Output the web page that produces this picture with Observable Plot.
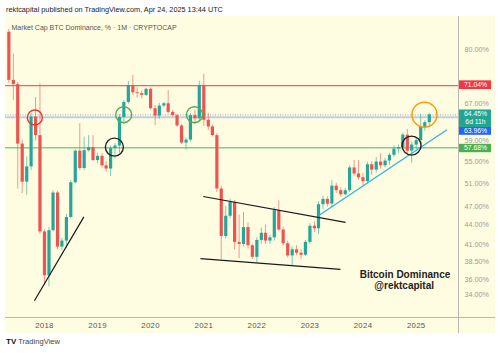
<!DOCTYPE html>
<html><head><meta charset="utf-8">
<script src="https://cdn.jsdelivr.net/npm/d3@7"></script>
<script src="https://cdn.jsdelivr.net/npm/@observablehq/plot@0.6"></script>
<style>
html,body{margin:0;padding:0;background:#fff;width:500px;height:353px;overflow:hidden;font-family:"Liberation Sans",Arial,sans-serif;}
#header{position:absolute;left:6px;top:5px;font-size:7.3px;color:#222;white-space:nowrap;}
#chart{position:absolute;left:5px;top:16px;width:490px;height:317px;}
#footer{position:absolute;left:6px;top:337px;font-size:7.6px;color:#444;white-space:nowrap;}
#footer b{color:#111;font-size:8px;margin-right:2px;}
[aria-label^="x-axis"]{color:#555;}
[aria-label^="x-axis"] text{font-size:7.8px;letter-spacing:0.3px;}
[aria-label^="y-axis"]{color:#9a9a9a;}
</style></head><body>
<div id="header">rektcapital published on TradingView.com, Apr 24, 2025 13:44 UTC</div>
<div id="chart"></div>
<div id="footer"><b>TV</b>TradingView</div>
<script>
// ---------- data ----------
const months = [
 "2017-05","2017-06","2017-07","2017-08","2017-09","2017-10","2017-11","2017-12",
 "2018-01","2018-02","2018-03","2018-04","2018-05","2018-06","2018-07","2018-08","2018-09","2018-10","2018-11","2018-12",
 "2019-01","2019-02","2019-03","2019-04","2019-05","2019-06","2019-07","2019-08","2019-09","2019-10","2019-11","2019-12",
 "2020-01","2020-02","2020-03","2020-04","2020-05","2020-06","2020-07","2020-08","2020-09","2020-10","2020-11","2020-12",
 "2021-01","2021-02","2021-03","2021-04","2021-05","2021-06","2021-07","2021-08","2021-09","2021-10","2021-11","2021-12",
 "2022-01","2022-02","2022-03","2022-04","2022-05","2022-06","2022-07","2022-08","2022-09","2022-10","2022-11","2022-12",
 "2023-01","2023-02","2023-03","2023-04","2023-05","2023-06","2023-07","2023-08","2023-09","2023-10","2023-11","2023-12",
 "2024-01","2024-02","2024-03","2024-04","2024-05","2024-06","2024-07","2024-08","2024-09","2024-10","2024-11","2024-12",
 "2025-01","2025-02","2025-03","2025-04"
];
const opens = [
 84.6,72.3,71.3,58.4,51.2,54.0,64.0,60.1,
 42.9,36.5,43.1,49.3,40.6,41.5,45.2,51.1,57.0,53.7,57.1,57.7,
 55.2,56.0,54.2,53.6,57.5,58.0,63.9,67.2,71.1,69.4,69.2,68.8,
 70.2,65.8,64.2,66.4,66.9,65.0,64.3,62.1,58.6,59.2,64.3,63.6,
 71.1,63.3,61.9,60.1,50.0,42.2,45.4,47.7,41.3,41.0,43.6,40.8,
 39.1,41.6,42.7,41.5,42.0,46.3,43.2,41.1,39.3,40.2,39.7,39.4,
 41.3,43.8,43.4,47.3,48.2,47.4,50.5,49.7,49.0,49.7,53.8,52.7,
 52.0,51.3,54.4,53.4,54.9,54.2,55.1,56.2,57.4,57.7,60.2,57.0,
 58.2,59.1,61.8,62.8
];
const highs = [
 85.4,78.8,71.8,59.2,55.9,64.8,68.3,71.5,
 43.2,43.6,49.7,49.6,41.9,45.7,51.5,57.3,62.6,59.8,60.1,60.1,
 56.6,56.5,55.0,58.0,58.5,64.5,67.6,72.1,73.5,70.5,69.8,70.4,
 70.5,66.5,67.0,67.2,69.9,65.4,64.6,62.4,59.6,64.8,65.5,72.1,
 73.8,64.8,62.3,60.5,50.5,47.0,48.2,48.0,45.6,46.0,44.3,41.0,
 42.0,43.5,44.0,42.4,46.8,48.0,43.6,41.5,40.6,40.8,40.2,41.6,
 44.2,44.5,47.8,48.8,48.6,51.5,51.0,50.2,50.1,54.2,55.2,55.2,
 52.8,54.8,55.0,55.8,56.5,55.6,56.6,58.0,58.2,60.6,61.4,58.8,
 59.7,64.6,63.2,64.8
];
const lows = [
 71.6,67.6,50.0,49.2,48.9,53.3,59.0,42.5,
 35.2,35.0,42.9,40.2,40.1,40.4,45.0,50.9,53.3,53.3,56.8,55.0,
 54.6,53.8,53.0,52.2,55.5,56.6,62.5,66.8,68.8,68.2,68.0,68.5,
 65.5,62.2,63.5,66.0,64.6,64.0,61.8,58.3,57.2,58.8,62.5,63.0,
 62.0,61.2,59.8,49.4,38.8,41.8,45.0,40.2,38.9,40.6,40.3,38.8,
 38.3,41.0,41.0,41.0,41.5,43.0,40.8,39.0,37.9,39.4,38.8,39.2,
 41.0,42.8,42.5,46.5,46.9,46.8,49.2,48.6,48.8,49.4,52.3,51.6,
 50.6,50.9,52.4,52.8,53.6,53.8,54.3,55.8,56.5,57.2,56.5,54.7,
 57.3,58.3,61.0,62.0
];
const closes = [
 72.3,71.3,58.4,51.2,54.0,64.0,60.1,42.9,
 36.5,43.1,49.3,40.6,41.5,45.2,51.1,57.0,53.7,57.1,57.7,55.2,
 56.0,54.2,53.6,57.5,58.0,63.9,67.2,71.1,69.4,69.2,68.8,70.2,
 65.8,64.2,66.4,66.9,65.0,64.3,62.1,58.6,59.2,64.3,63.6,71.1,
 63.3,61.9,60.1,50.0,42.2,45.4,47.7,41.3,41.0,43.6,40.8,39.1,
 41.6,42.7,41.5,42.0,46.3,43.2,41.1,39.3,40.2,39.7,39.4,41.3,
 43.8,43.4,47.3,48.2,47.4,50.5,49.7,49.0,49.7,53.8,52.7,52.0,
 51.3,54.4,53.4,54.9,54.2,55.1,56.2,57.4,57.7,60.2,57.0,58.2,
 59.1,61.8,62.8,64.45
];

// axis ticks (labels hidden behind price badges are left out)
const yearTicks = ["2018","2019","2020","2021","2022","2023","2024","2025"];
const yTicks = [80, 67, 59, 55, 51, 47, 44, 41, 38.5, 36, 34];

// horizontal levels and their price badges
const levelValues = [71.04, 64.45, 63.96, 57.68];
const levelLabels = ["71.04%", "64.45%", "63.96%", "57.68%"];
const countdownLabel = "6d 11h";

// hand-drawn trend lines (start/end date and value)
const trendStartDates = ["2017-10-24", "2020-12-28", "2020-12-09", "2023-03-03"];
const trendStartValues = [33.2, 48.7, 38.9, 45.5];
const trendEndDates = ["2018-09-29", "2023-09-03", "2023-07-30", "2025-08-01"];
const trendEndValues = [45.3, 44.4, 37.4, 61.3];

// circles marking points
const circleDates = ["2017-10-27", "2019-04-27", "2019-06-30", "2020-10-29", "2024-11-30", "2025-02-27"];
const circleValues = [63.9, 57.8, 64.5, 64.5, 58.1, 64.5];

// annotation text
const noteDates = ["2024-10-16", "2024-10-10"];
const noteValues = [36.6, 35.1];
const noteTexts = ["Bitcoin Dominance", "@rektcapital"];

const seriesTitle = "Market Cap BTC Dominance, % · 1M · CRYPTOCAP";

// ---------- styles / layout ----------
const W = 490, H = 317, MR = 37, MB = 16;
const frameW = W - MR;
const UP = "#26a69a", DOWN = "#ef5350";
const trendColors = ["#1a1a1a", "#1a1a1a", "#1a1a1a", "#2fb0dc"];
const circleColors = ["#e53935", "#222", "#4caf50", "#4caf50", "#222", "#ff9800"];
const circleRadius = [7.5, 9, 8, 8, 9.5, 12.5];
const levelStyles = [
  {stroke: "#f23645", width: 1, dash: null},
  {stroke: "#9aa3ad", width: 1, dash: "1,1.5"},
  {stroke: "#c3cde0", width: 2, dash: null},
  {stroke: "#8cc98f", width: 1.5, dash: null}
];
const badgeStyles = [
  {fill: "#f23645", dy: -1, h: 8.7, textDy: -1},
  {fill: "#22a592", dy: 3.4, h: 17.7, textDy: -1.6},
  {fill: "#2962ff", dy: 13.7, h: 7.8, textDy: 13.7},
  {fill: "#4caf50", dy: 0.3, h: 8.4, textDy: 0.6}
];
const badgeFont = 6.8;

const parse = s => new Date(s + (s.length === 7 ? "-01" : "") + "T00:00:00Z");
const candles = months.map((m, i) => ({
  date: parse(m), open: opens[i], high: highs[i], low: lows[i], close: closes[i]
}));
const col = d => d.close >= d.open ? UP : DOWN;
const trends = trendStartDates.map((d, i) => ({
  x1: parse(d), y1: trendStartValues[i], x2: parse(trendEndDates[i]), y2: trendEndValues[i], c: trendColors[i]
}));
const circles = circleDates.map((d, i) => ({x: parse(d), y: circleValues[i], r: circleRadius[i], c: circleColors[i]}));
const notes = noteDates.map((d, i) => ({x: parse(d), y: noteValues[i], t: noteTexts[i]}));
const xDomain = [parse("2017-04-08"), parse("2025-10-19")];
const yDomain = [31.1, 89.0];

const levelMarks = levelValues.map((v, i) => Plot.ruleY([v], {
  stroke: levelStyles[i].stroke, strokeWidth: levelStyles[i].width, strokeDasharray: levelStyles[i].dash
}));
const badgeMarks = [];
levelValues.forEach((v, i) => {
  const s = badgeStyles[i];
  badgeMarks.push(Plot.ruleY([v], {stroke: s.fill, strokeWidth: s.h, insetLeft: frameW + 1, insetRight: -33, dy: s.dy}));
  badgeMarks.push(Plot.text([v], {y: d => d, text: () => levelLabels[i], frameAnchor: "right", textAnchor: "middle", dx: 17, dy: s.textDy, fill: "white", fontSize: badgeFont}));
});
badgeMarks.push(Plot.text([levelValues[1]], {y: d => d, text: () => countdownLabel, frameAnchor: "right", textAnchor: "middle", dx: 17, dy: 6.4, fill: "white", fontSize: badgeFont}));

const plot = Plot.plot({
  width: W, height: H,
  marginLeft: 0, marginRight: MR, marginTop: 0, marginBottom: MB,
  style: {background: "#fffde1", fontFamily: "Liberation Sans, Arial, sans-serif", fontSize: "7.2px", overflow: "visible"},
  x: {type: "utc", domain: xDomain, ticks: yearTicks.map(parse), tickFormat: d3.utcFormat("%Y"), tickSize: 0, tickPadding: 5, label: null},
  y: {type: "symlog", constant: 12, domain: yDomain, axis: "right", ticks: yTicks, tickFormat: d => d.toFixed(2) + "%", tickSize: 0, tickPadding: 6, label: null},
  r: {type: "identity"},
  marks: [
    ...levelMarks,
    Plot.ruleX([xDomain[1]], {stroke: "#b8b8b0", insetBottom: -MB}),
    Plot.ruleY([yDomain[0]], {stroke: "#b8b8b0", insetRight: -MR}),
    Plot.ruleX(candles, {x: "date", y1: "low", y2: "high", stroke: col, strokeWidth: 1, strokeOpacity: 0.6}),
    Plot.ruleX(candles, {x: "date", y1: "open", y2: "close", stroke: col, strokeWidth: 3.2}),
    Plot.link(trends, {x1: "x1", y1: "y1", x2: "x2", y2: "y2", stroke: "c", strokeWidth: 1.2}),
    Plot.dot(circles, {x: "x", y: "y", r: "r", stroke: "c", fill: "none", strokeWidth: 1.4}),
    Plot.text(notes, {x: "x", y: "y", text: "t", fontWeight: "bold", fontSize: 10, fill: "#222"}),
    Plot.text([seriesTitle], {frameAnchor: "top-left", dx: 6, dy: 9, textAnchor: "start", fill: "#555", fontSize: 7}),
    ...badgeMarks
  ]
});
document.getElementById("chart").appendChild(plot);
</script>
</body></html>
